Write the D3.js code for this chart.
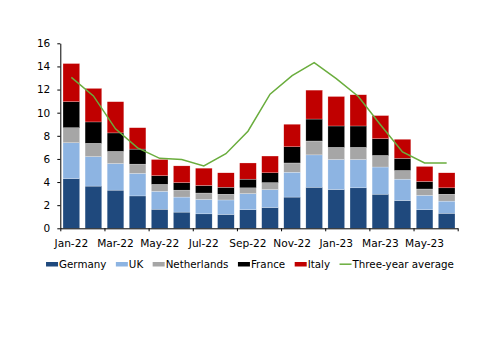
<!DOCTYPE html>
<html>
<head>
<meta charset="utf-8">
<script src="https://cdn.jsdelivr.net/npm/d3@7"></script>
<style>
  body { margin: 0; background: #fff; }
  svg { display: block; font-family: "DejaVu Sans", sans-serif; }
</style>
</head>
<body>
<svg></svg>
<script>
const months = ["Jan-22","Feb-22","Mar-22","Apr-22","May-22","Jun-22","Jul-22","Aug-22","Sep-22","Oct-22","Nov-22","Dec-22",
                "Jan-23","Feb-23","Mar-23","Apr-23","May-23","Jun-23"];
const germany     = [4.3, 3.65, 3.3, 2.8, 1.65, 1.4, 1.25, 1.2, 1.6, 1.8, 2.7, 3.55, 3.35, 3.5, 2.95, 2.4, 1.6, 1.3];
const uk          = [3.1, 2.55, 2.3, 1.95, 1.55, 1.3, 1.25, 1.25, 1.4, 1.55, 2.15, 2.8, 2.6, 2.45, 2.35, 1.85, 1.25, 1.05];
const netherlands = [1.3, 1.15, 1.05, 0.8, 0.6, 0.6, 0.55, 0.5, 0.5, 0.6, 0.8, 1.2, 1.05, 1.05, 1.0, 0.75, 0.55, 0.6];
const france      = [2.25, 1.85, 1.6, 1.3, 0.75, 0.65, 0.65, 0.6, 0.75, 0.85, 1.4, 1.9, 1.85, 1.85, 1.45, 1.05, 0.65, 0.55];
const italy       = [3.3, 2.9, 2.7, 1.85, 1.4, 1.45, 1.5, 1.25, 1.4, 1.45, 1.95, 2.5, 2.55, 2.7, 2.0, 1.65, 1.3, 1.3];
const threeYearAvg = [13.05, 11.45, 8.6, 6.95, 6.05, 5.95, 5.4, 6.45, 8.4, 11.6, 13.2, 14.33, 12.95, 11.4, 8.95, 6.6, 5.65, 5.65];
const yTicks = [0, 2, 4, 6, 8, 10, 12, 14, 16];

const seriesNames  = ["Germany", "UK", "Netherlands", "France", "Italy"];
const seriesColors = ["#1f497d", "#8db4e2", "#a6a6a6", "#000000", "#c00000"];
const lineColor = "#6aad3d";

const width = 500, height = 353;
const plotLeft = 60.3, plotRight = 457.7, plotTop = 43.3, plotBottom = 228.3;

const svg = d3.select("svg").attr("width", width).attr("height", height);

// rows for stacking
const rows = months.map((m, i) => ({
  month: m, Germany: germany[i], UK: uk[i], Netherlands: netherlands[i], France: france[i], Italy: italy[i]
}));
const stacked = d3.stack().keys(seriesNames)(rows);

const x = d3.scaleBand().domain(months).range([plotLeft, plotRight]).paddingInner(0.245).paddingOuter(0.1225);
const xIdx = d3.scaleLinear().domain([0, months.length]).range([plotLeft, plotRight]);
const y = d3.scaleLinear().domain([0, 16]).range([plotBottom, plotTop]);
const color = d3.scaleOrdinal().domain(seriesNames).range(seriesColors);

// bars
svg.append("g").selectAll("g").data(stacked).enter().append("g")
  .attr("fill", d => color(d.key))
  .selectAll("rect").data(d => d).enter().append("rect")
    .attr("x", d => x(d.data.month))
    .attr("width", x.bandwidth())
    .attr("y", d => y(d[1]))
    .attr("height", d => y(d[0]) - y(d[1]))
    .attr("stroke", "#ffffff").attr("stroke-width", 0.4).attr("stroke-opacity", 0.6);

// three-year average line
const line = d3.line()
  .x((d, i) => x(months[i]) + x.bandwidth() / 2)
  .y(d => y(d));
svg.append("path").datum(threeYearAvg)
  .attr("d", line)
  .attr("fill", "none")
  .attr("stroke", lineColor)
  .attr("stroke-width", 1.5);

// y axis
const yAxis = svg.append("g").attr("transform", `translate(${plotLeft},0)`)
  .call(d3.axisLeft(y).tickValues(yTicks).tickSize(3).tickPadding(7).tickSizeOuter(0));
yAxis.selectAll("text").attr("font-size", 10.5).attr("fill", "#000").attr("font-family", "DejaVu Sans");

// x axis ticks every two months
svg.append("g").attr("transform", `translate(0,${plotBottom})`)
  .call(d3.axisBottom(xIdx).tickValues(d3.range(0, months.length + 1, 2)).tickSize(3).tickSizeOuter(0).tickFormat(""));

// x labels under every other month
const xLab = svg.append("g").attr("transform", `translate(0,${plotBottom})`)
  .call(d3.axisBottom(x).tickValues(months.filter((m, i) => i % 2 === 0)).tickSize(0).tickPadding(11.5));
xLab.select(".domain").remove();
xLab.selectAll("text").attr("font-size", 10.6).attr("fill", "#000").attr("font-family", "DejaVu Sans");

svg.selectAll(".domain").attr("stroke", "#000");
svg.selectAll(".tick line").attr("stroke", "#000");

// legend
const legendItems = seriesNames.map((n, i) => ({ name: n, color: seriesColors[i], type: "rect" }))
  .concat([{ name: "Three-year average", color: lineColor, type: "line" }]);
const legend = svg.append("g");
const gap = 9.5;
let lx = 0;
legendItems.forEach(item => {
  const g = legend.append("g").attr("transform", `translate(${lx},0)`);
  if (item.type === "rect") {
    g.append("rect").attr("x", 0).attr("y", 262).attr("width", 12).attr("height", 4.5).attr("fill", item.color);
  } else {
    g.append("line").attr("x1", 0).attr("x2", 12).attr("y1", 264.2).attr("y2", 264.2)
      .attr("stroke", item.color).attr("stroke-width", 1.5);
  }
  const t = g.append("text").attr("x", 13).attr("y", 267.5)
    .attr("font-size", 10.3).attr("fill", "#000").text(item.name);
  lx += 13 + t.node().getComputedTextLength() + gap;
});
lx -= gap;
legend.attr("transform", `translate(${250 - lx / 2},0)`);
</script>
</body>
</html>
